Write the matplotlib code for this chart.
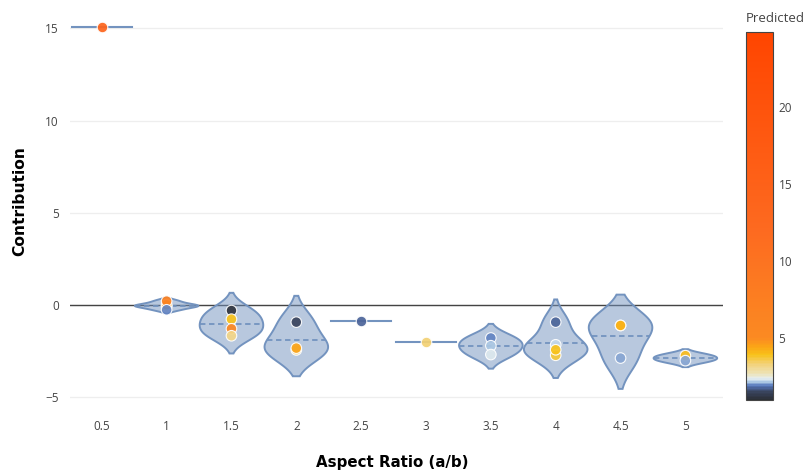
import numpy as np
import matplotlib.pyplot as plt
from matplotlib.colors import LinearSegmentedColormap, Normalize
from matplotlib.cm import ScalarMappable

# aspect ratio groups and per-sample contributions / predicted values
ratios = ['0.5', '1', '1.5', '2', '2.5', '3', '3.5', '4', '4.5', '5']
contrib = [
    [15.1],
    [-0.1, -0.05, 0.0, 0.2, -0.27],
    [-0.31, -0.78, -1.3, -1.68],
    [-0.94, -2.45, -2.35],
    [-0.9],
    [-2.02],
    [-1.8, -2.22, -2.7],
    [-0.94, -2.17, -2.74, -2.44],
    [-1.12, -1.12, -2.89],
    [-2.76, -3.03],
]
predicted = [
    [14.0],
    [4.5, 4.5, 4.5, 7.0, 2.0],
    [1.1, 3.9, 5.6, 3.2],
    [1.5, 3.0, 4.5],
    [1.8],
    [3.4],
    [2.0, 2.2, 2.35],
    [1.75, 2.3, 3.8, 3.9],
    [4.2, 4.2, 2.08],
    [4.0, 2.05],
]

# colour scale for the Predicted colorbar
cs_vals = [1.0, 1.5, 1.9, 2.15, 2.35, 2.7, 3.3, 3.9, 4.4, 5.0, 12.0, 24.9]
cs_cols = ['#2b2f36', '#3a4560', '#5577bb', '#b5d0e8', '#e6eef0', '#ede2b5',
           '#f3d27a', '#f8c21a', '#fba616', '#fb8a22', '#fd6a20', '#ff4500']
vmin, vmax = cs_vals[0], cs_vals[-1]
cmap = LinearSegmentedColormap.from_list(
    'pred', [((v - vmin) / (vmax - vmin), c) for v, c in zip(cs_vals, cs_cols)])
norm = Normalize(vmin, vmax)

line_c = '#7393bf'


def quant(s, p):
    x = p * len(s) - 0.5
    if x < 0:
        return s[0]
    if x > len(s) - 1:
        return s[-1]
    lo, hi = int(np.floor(x)), int(np.ceil(x))
    f = x - lo
    return f * s[hi] + (1 - f) * s[lo]


def kde(vals):
    v = np.asarray(vals, float)
    s = np.sort(v)
    sd = v.std(ddof=1)
    iqr = quant(s, 0.75) - quant(s, 0.25)
    bw = 1.059 * min(sd, iqr / 1.349) * len(v) ** -0.2
    bw = max(bw, (s[-1] - s[0]) / 100)
    y = np.linspace(s[0] - 2 * bw, s[-1] + 2 * bw, 300)
    d = np.exp(-0.5 * ((y[:, None] - v[None, :]) / bw) ** 2).sum(1)
    return y, d / d.max()


fig = plt.figure(figsize=(8.07, 4.76), dpi=100)
W, H = 807, 476
ax = fig.add_axes([70 / W, 1 - 408 / H, 653 / W, 398 / H])

hw = 0.49
for i, (vals, pred) in enumerate(zip(contrib, predicted)):
    if len(vals) > 1:
        y, d = kde(vals)
        xs = np.concatenate([i + hw * d, (i - hw * d)[::-1]])
        ys = np.concatenate([y, y[::-1]])
        ax.fill(xs, ys, facecolor=line_c, alpha=0.5, zorder=2, lw=0)
        ax.fill(xs, ys, facecolor='none', edgecolor=line_c, lw=1.4, zorder=2)
        m = np.mean(vals)
        w = hw * np.interp(m, y, d)
        ax.plot([i - w, i + w], [m, m], color=line_c, lw=1.3,
                ls=(0, (3, 2)), zorder=2)
    else:
        ax.plot([i - 0.46, i + 0.46], [vals[0]] * 2, color=line_c, lw=1.5,
                zorder=2)
    ax.scatter(np.full(len(vals), i), vals, c=pred, cmap=cmap, norm=norm,
               s=58, edgecolors='white', linewidths=0.8, alpha=0.92, zorder=3)

ax.axhline(0, color='#444444', lw=1.0, zorder=1)
ax.set_xlim(-0.49, 9.58)
ax.set_ylim(-5.6, 16.0)
ax.set_xticks(range(len(ratios)))
ax.set_xticklabels(ratios)
ax.set_yticks([-5, 0, 5, 10, 15])
ax.set_yticklabels(['\u22125', '0', '5', '10', '15'])
ax.yaxis.grid(True, color='#eeeeee', lw=0.9, zorder=0)
ax.set_axisbelow(True)
for sp in ax.spines.values():
    sp.set_visible(False)
ax.tick_params(length=0, labelsize=8.5, labelcolor='#444444')
ax.tick_params(axis='x', pad=9)
ax.tick_params(axis='y', pad=8)
for lab in ax.get_xticklabels() + ax.get_yticklabels():
    lab.set_family('Open Sans')

ax.set_xlabel('Aspect Ratio (a/b)', family='DejaVu Sans', fontweight='bold',
              fontsize=10.8, color='black')
ax.xaxis.set_label_coords((392 - 70) / 653, -(455 - 408) / 398)
ax.set_ylabel('Contribution', family='DejaVu Sans', fontweight='bold',
              fontsize=11.2, color='black')
ax.yaxis.set_label_coords((27 - 70) / 653, (408 - 201) / 398)

# colorbar
cax = fig.add_axes([746 / W, 1 - 400 / H, 27 / W, 368 / H])
cb = fig.colorbar(ScalarMappable(norm=norm, cmap=cmap), cax=cax)
cb.set_ticks([5, 10, 15, 20])
cb.ax.tick_params(length=0, labelsize=8.5, labelcolor='#444444', pad=4)
for lab in cb.ax.get_yticklabels():
    lab.set_family('Open Sans')
cb.outline.set_edgecolor('#444444')
cb.outline.set_linewidth(0.8)
fig.text(746 / W, 1 - 18 / H, 'Predicted', family='Open Sans', fontsize=9.5,
         color='#444444', ha='left', va='center')

fig.savefig('out.png', dpi=100)
